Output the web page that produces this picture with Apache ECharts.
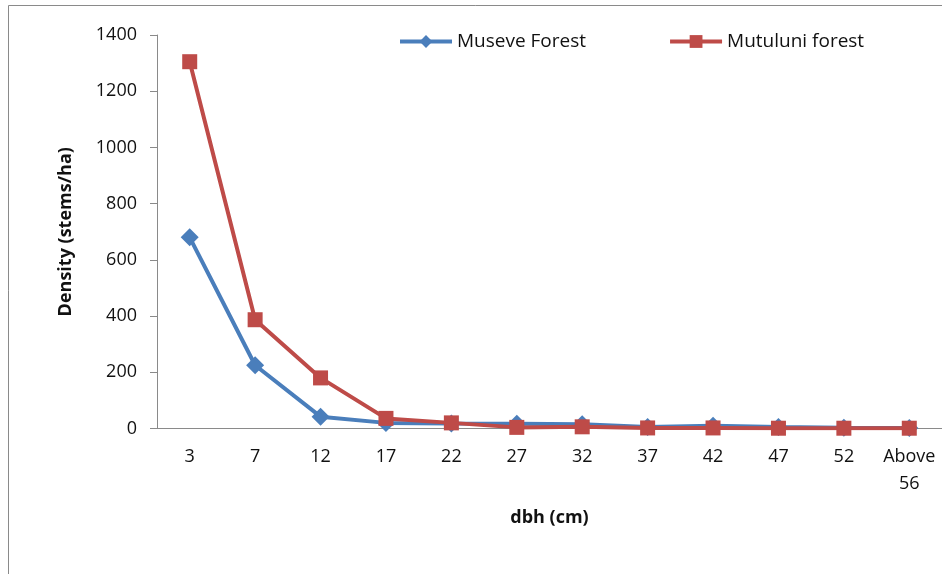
<!DOCTYPE html>
<html>
<head>
<meta charset="utf-8">
<script src="https://cdn.jsdelivr.net/npm/echarts@6/dist/echarts.min.js"></script>
<style>
  html, body { margin: 0; padding: 0; background: #fff; }
  #chart { width: 942px; height: 574px; }
</style>
</head>
<body>
<div id="chart"></div>
<script>
// Diameter classes (dbh, cm)
const dbhClasses = ['3', '7', '12', '17', '22', '27', '32', '37', '42', '47', '52', 'Above\n56'];
// Stem density (stems/ha) per diameter class
const museveForest = [680, 225, 42, 20, 18, 17, 15, 5, 10, 5, 3, 2];
const mutuluniForest = [1305, 387, 180, 36, 20, 4, 6, 2, 2, 1, 1, 1];
// Density axis ticks
const yMin = 0, yMax = 1400, yStep = 200;

const FONT = '"Open Sans", "Liberation Sans", sans-serif';
const BLUE = '#4A7EBB';
const RED = '#BE4B48';

const chart = echarts.init(document.getElementById('chart'), null, { renderer: 'canvas' });
chart.setOption({
  animation: false,
  backgroundColor: '#fff',
  graphic: [{
    type: 'rect',
    shape: { x: 8.5, y: 5.5, width: 1000, height: 700 },
    style: { fill: 'none', stroke: '#8a8a8a', lineWidth: 1 },
    silent: true
  }],
  legend: {
    top: 27,
    left: 393,
    itemGap: 82,
    itemWidth: 52,
    itemHeight: 16,
    lineStyle: { width: 4 },
    textStyle: { fontFamily: FONT, fontSize: 19, color: '#111' },
    data: ['Museve Forest', 'Mutuluni forest']
  },
  grid: { left: 157, top: 35, right: -1, bottom: 145.5, containLabel: false },
  xAxis: {
    type: 'category',
    data: dbhClasses,
    boundaryGap: true,
    name: 'dbh (cm)',
    nameLocation: 'middle',
    nameGap: 80,
    nameTextStyle: { fontFamily: FONT, fontSize: 18, fontWeight: 'bold', color: '#111' },
    axisLine: { lineStyle: { color: '#8a8a8a', width: 1 } },
    axisTick: { show: false },
    axisLabel: { fontFamily: FONT, fontSize: 18, color: '#111', margin: 15, lineHeight: 27, interval: 0 },
    splitLine: { show: false }
  },
  yAxis: {
    type: 'value',
    min: yMin,
    max: yMax,
    interval: yStep,
    name: 'Density (stems/ha)',
    nameLocation: 'middle',
    nameGap: 82,
    nameRotate: 90,
    nameTextStyle: { fontFamily: FONT, fontSize: 18, fontWeight: 'bold', color: '#111' },
    axisLine: { show: true, lineStyle: { color: '#8a8a8a', width: 1 } },
    axisTick: { show: true, length: 7, lineStyle: { color: '#8a8a8a' } },
    axisLabel: { fontFamily: FONT, fontSize: 18, color: '#111', margin: 20, formatter: (v) => String(v) },
    splitLine: { show: false }
  },
  series: [
    {
      name: 'Museve Forest',
      type: 'line',
      data: museveForest,
      symbol: 'diamond',
      symbolSize: 18,
      lineStyle: { color: BLUE, width: 4 },
      itemStyle: { color: BLUE },
      z: 2
    },
    {
      name: 'Mutuluni forest',
      type: 'line',
      data: mutuluniForest,
      symbol: 'rect',
      symbolSize: 15,
      lineStyle: { color: RED, width: 4 },
      itemStyle: { color: RED },
      z: 3
    }
  ]
});
</script>
</body>
</html>
